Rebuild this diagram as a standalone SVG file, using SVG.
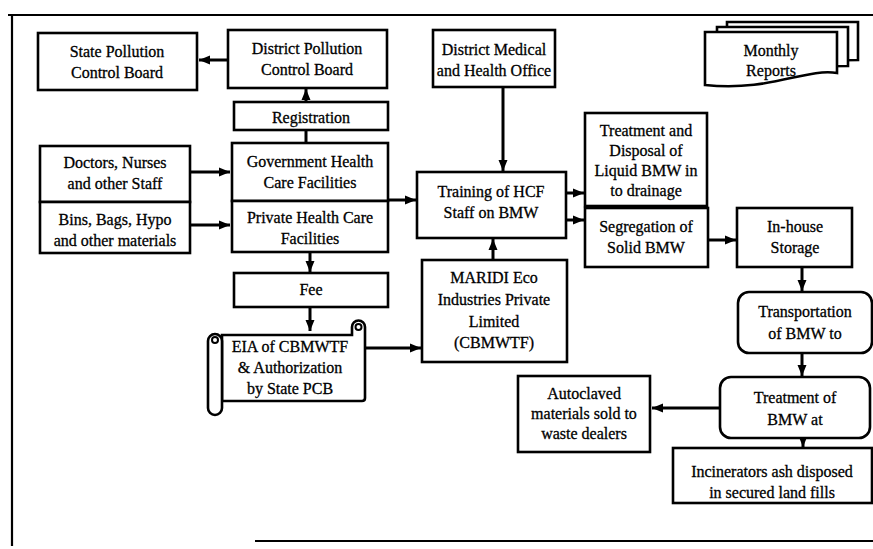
<svg xmlns="http://www.w3.org/2000/svg" width="873" height="549" viewBox="0 0 873 549" font-family="Liberation Serif, Times New Roman, serif">
<style>
.b{fill:#fff;stroke:#000;stroke-width:2.6}
.t{font-size:16px;fill:#000;stroke:#000;stroke-width:0.3;text-anchor:middle}
.c{fill:none;stroke:#000;stroke-width:3}
.a{marker-end:url(#ah)}
.f{fill:none;stroke:#000;stroke-width:2.2}
</style>
<defs>
<marker id="ah" markerUnits="userSpaceOnUse" markerWidth="12" markerHeight="12" viewBox="0 0 12 12" refX="11" refY="6" orient="auto">
<path d="M0,1.5 L11,6 L0,10.5 Z" fill="#000"/>
</marker>
</defs>
<rect width="873" height="549" fill="#fff"/>
<g id="frame">
<path class="f" d="M8,15 H873 M12,15 V546 M255,541 H873"/>
</g>
<g id="connectors">
<line class="c a" x1="228" y1="60" x2="199" y2="60"/>
<line class="c a" x1="306" y1="102" x2="306" y2="89"/>
<line class="c" x1="306" y1="130" x2="306" y2="143"/>
<line class="c a" x1="190" y1="172" x2="230" y2="172"/>
<line class="c a" x1="190" y1="225" x2="230" y2="225"/>
<line class="c a" x1="388" y1="200" x2="416" y2="200"/>
<line class="c a" x1="310" y1="252" x2="310" y2="272"/>
<line class="c a" x1="310" y1="307" x2="310" y2="331"/>
<line class="c a" x1="365" y1="348" x2="421" y2="348"/>
<line class="c a" x1="493" y1="260" x2="493" y2="239"/>
<line class="c a" x1="503" y1="87" x2="503" y2="171"/>
<line class="c a" x1="566" y1="193" x2="584" y2="193"/>
<line class="c a" x1="566" y1="220" x2="584" y2="220"/>
<line class="c a" x1="708" y1="240" x2="736" y2="240"/>
<line class="c a" x1="802" y1="267" x2="802" y2="291"/>
<line class="c a" x1="802" y1="353" x2="802" y2="376"/>
<line class="c a" x1="720" y1="408" x2="652" y2="408"/>
<line class="c a" x1="803" y1="438" x2="803" y2="447"/>
</g>
<g id="spcb"><rect class="b" x="38" y="33" width="159" height="57"/><text class="t" x="117" y="57">State Pollution</text><text class="t" x="117" y="78">Control Board</text></g>
<g id="dpcb"><rect class="b" x="228" y="30" width="159" height="58"/><text class="t" x="307" y="54">District Pollution</text><text class="t" x="307" y="75">Control Board</text></g>
<g id="registration"><rect class="b" x="234" y="102" width="154" height="28"/><text class="t" x="311" y="123">Registration</text></g>
<g id="gov"><rect class="b" x="232" y="143" width="156" height="58"/><text class="t" x="310" y="167">Government Health</text><text class="t" x="310" y="188">Care Facilities</text></g>
<g id="private"><rect class="b" x="232" y="201" width="156" height="51"/><text class="t" x="310" y="223">Private Health Care</text><text class="t" x="310" y="244">Facilities</text></g>
<g id="doctors"><rect class="b" x="40" y="146" width="150" height="56"/><text class="t" x="115" y="168">Doctors, Nurses</text><text class="t" x="115" y="189">and other Staff</text></g>
<g id="bins"><rect class="b" x="40" y="202" width="150" height="51"/><text class="t" x="115" y="225">Bins, Bags, Hypo</text><text class="t" x="115" y="246">and other materials</text></g>
<g id="fee"><rect class="b" x="234" y="273" width="154" height="34"/><text class="t" x="311" y="295">Fee</text></g>
<g id="eia">
<path class="b" d="M222,335 H352 V327 A6.5,6.5 0 0 1 365,327 V398 Q365,401 362,401 H222 Z"/>
<path class="b" d="M208,341 A7,7 0 0 1 222,341 V408 A7,7 0 0 1 208,408 Z"/>
<circle cx="215" cy="340" r="3" fill="none" stroke="#000" stroke-width="2"/>
<circle cx="358.5" cy="327" r="3" fill="none" stroke="#000" stroke-width="2"/>
<text class="t" x="290" y="352">EIA of CBMWTF</text><text class="t" x="290" y="373">&amp; Authorization</text><text class="t" x="290" y="394">by State PCB</text>
</g>
<g id="dmho"><rect class="b" x="433" y="30" width="122" height="57"/><text class="t" x="494" y="55">District Medical</text><text class="t" x="494" y="76">and Health Office</text></g>
<g id="training"><rect class="b" x="417" y="172" width="149" height="66"/><text class="t" x="491" y="197">Training of HCF</text><text class="t" x="491" y="218">Staff on BMW</text></g>
<g id="maridi"><rect class="b" x="422" y="260" width="145" height="102"/><text class="t" x="494" y="283">MARIDI Eco</text><text class="t" x="494" y="305">Industries Private</text><text class="t" x="494" y="327">Limited</text><text class="t" x="494" y="348">(CBMWTF)</text></g>
<g id="liquid"><rect class="b" x="585" y="113" width="122" height="93"/><text class="t" x="646" y="136">Treatment and</text><text class="t" x="646" y="156">Disposal of</text><text class="t" x="646" y="176">Liquid BMW in</text><text class="t" x="646" y="196">to drainage</text></g>
<g id="segregation"><rect class="b" x="585" y="208" width="123" height="59"/><text class="t" x="646" y="232">Segregation of</text><text class="t" x="646" y="253">Solid BMW</text></g>
<g id="inhouse"><rect class="b" x="737" y="208" width="115" height="59"/><text class="t" x="795" y="232">In-house</text><text class="t" x="795" y="253">Storage</text></g>
<g id="transport"><rect class="b" x="738" y="292" width="134" height="61" rx="11"/><text class="t" x="805" y="317">Transportation</text><text class="t" x="805" y="339">of BMW to</text></g>
<g id="treatment"><rect class="b" x="720" y="377" width="150" height="61" rx="11"/><text class="t" x="795" y="403">Treatment of</text><text class="t" x="795" y="425">BMW at</text></g>
<g id="autoclaved"><rect class="b" x="518" y="376" width="132" height="76"/><text class="t" x="584" y="399">Autoclaved</text><text class="t" x="584" y="419">materials sold to</text><text class="t" x="584" y="439">waste dealers</text></g>
<g id="incinerators"><rect class="b" x="673" y="448" width="199" height="55"/><text class="t" x="772" y="477">Incinerators ash disposed</text><text class="t" x="772" y="498">in secured land fills</text></g>
<g id="monthly">
<path class="b" d="M727,62 V22 H858 V60 Z"/>
<path class="b" d="M717,67 V27 H848 V66 Z"/>
<path class="b" d="M705,32 H837 V73 C805,68 770,92 705,85 Z"/>
<text class="t" x="771" y="56">Monthly</text><text class="t" x="771" y="76">Reports</text>
</g>
</svg>
